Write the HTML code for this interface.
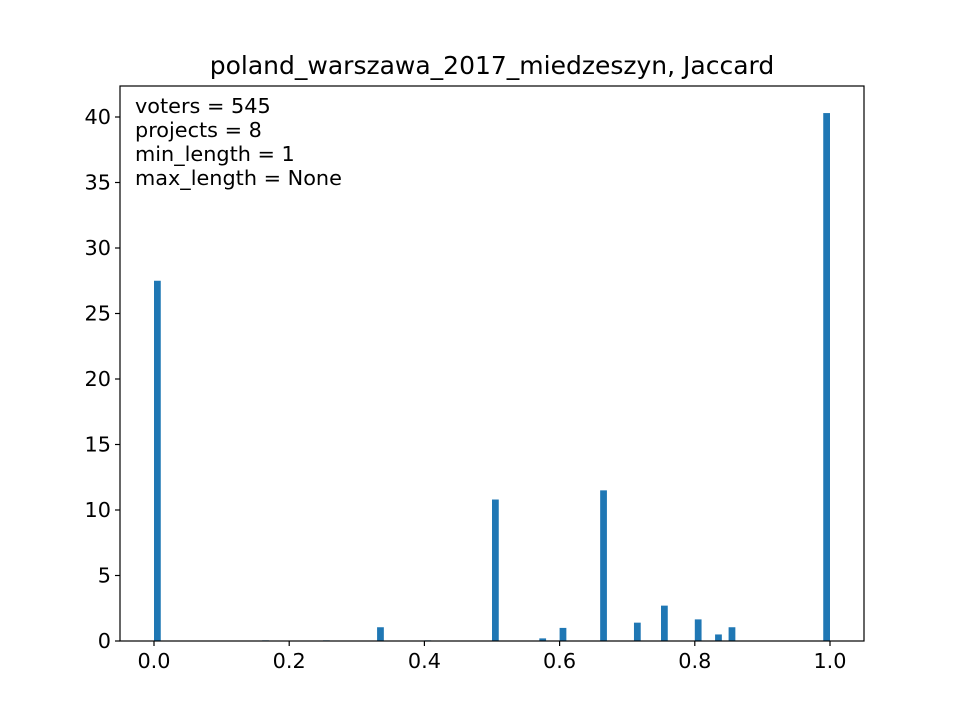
<!DOCTYPE html>
<html><head><meta charset="utf-8"><style>
body{margin:0;background:#fff}
svg text{font-family:"DejaVu Sans","Liberation Sans",sans-serif}
</style></head><body>
<svg id="c" width="960" height="720" xmlns="http://www.w3.org/2000/svg">
<rect width="960" height="720" fill="#fff"/>
<g id="bars"></g>
<g id="axes"></g>
<text x="492" y="74" text-anchor="middle" font-size="25">poland_warszawa_2017_miedzeszyn, Jaccard</text>
<g font-size="20.8">
<text x="135" y="113">voters = 545</text>
<text x="135" y="137">projects = 8</text>
<text x="135" y="161">min_length = 1</text>
<text x="135" y="185">max_length = None</text>
</g>
</svg>
<script>
const binStarts = [0.0, 0.16, 0.25, 0.33, 0.40, 0.50, 0.57, 0.60, 0.66, 0.71, 0.75, 0.80, 0.83, 0.85, 0.99];
const densities = [27.5, 0.05, 0.05, 1.05, 0.05, 10.8, 0.2, 1.0, 11.5, 1.4, 2.7, 1.65, 0.5, 1.05, 40.3];
const binWidth = 0.01;
const xTicks = [0.0, 0.2, 0.4, 0.6, 0.8, 1.0];
const xTickLabels = ["0.0", "0.2", "0.4", "0.6", "0.8", "1.0"];
const yTicks = [0, 5, 10, 15, 20, 25, 30, 35, 40];

const L=120,R=864,T=86,B=641;
const X=v=>154+v*676;
const Y=v=>B-v*13.1;
const NS="http://www.w3.org/2000/svg";
const bars=document.getElementById('bars'), axes=document.getElementById('axes');
function mk(tag,attrs,parent){const e=document.createElementNS(NS,tag);for(const k in attrs)e.setAttribute(k,attrs[k]);parent.appendChild(e);return e;}
binStarts.forEach((b,i)=>{
  const r=mk('rect',{x:X(b),y:Y(densities[i]),width:X(b+binWidth)-X(b),height:B-Y(densities[i]),fill:'#1f77b4'},bars);
  
  
});
const fr=mk('rect',{x:L,y:T,width:R-L,height:B-T,fill:'none',stroke:'#000','stroke-width':1.2},axes);


xTicks.forEach((t,i)=>{
  mk('line',{x1:X(t),x2:X(t),y1:B,y2:B+5,stroke:'#000','stroke-width':1.2},axes);
  const tx=mk('text',{x:X(t),y:B+27,'text-anchor':'middle','font-size':20.8},axes);
  tx.textContent=xTickLabels[i];
  
  
});
yTicks.forEach(t=>{
  mk('line',{x1:L-5,x2:L,y1:Y(t),y2:Y(t),stroke:'#000','stroke-width':1.2},axes);
  const tx=mk('text',{x:L-9,y:Y(t)+7,'text-anchor':'end','font-size':20.8},axes);
  tx.textContent=String(t);
  
  
});
</script>
</body></html>
